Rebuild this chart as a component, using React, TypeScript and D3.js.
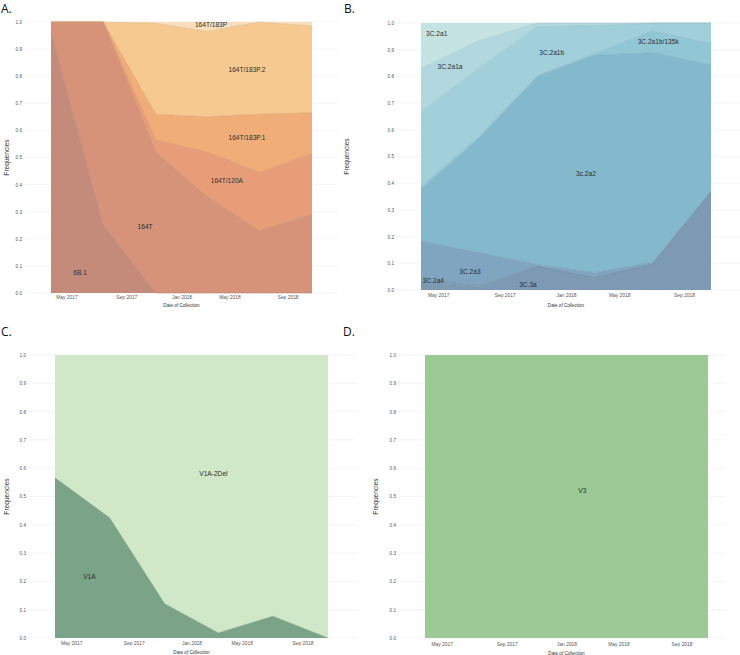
import { useEffect, useRef } from "react";
import * as d3 from "d3";

// collection dates (one point every 4 months) and the axis breaks
const dates = ["2017-03-26", "2017-07-26", "2017-11-26", "2018-03-26", "2018-07-26", "2018-11-26"];
const tickDates = ["2017-05-01", "2017-09-18", "2018-01-25", "2018-05-17", "2018-09-30"];
const yTicks = [0, 0.1, 0.2, 0.3, 0.4, 0.5, 0.6, 0.7, 0.8, 0.9, 1.0];

// A. (bottom -> top)
const aKeys = ["6B.1", "164T", "164T/120A", "164T/183P.1", "164T/183P.2", "164T/183P"];
const a6B1 = [0.96, 0.25, 0, 0, 0, 0];
const a164T = [0.04, 0.75, 0.52, 0.355, 0.23, 0.29];
const a164T120A = [0, 0, 0.045, 0.165, 0.215, 0.225];
const a164T183P1 = [0, 0, 0.095, 0.13, 0.215, 0.15];
const a164T183P2 = [0, 0, 0.335, 0.315, 0.34, 0.32];
const a164T183P = [0, 0, 0.005, 0.035, 0, 0.015];
const aColors = ["#c48b7a", "#d69379", "#e89d79", "#f0ad78", "#f5c98f", "#f8deba"];
const aLabelDates = ["2017-06-02", "2017-11-01", "2018-05-11", "2018-06-27", "2018-06-27", "2018-04-04"];
const aLabelValues = [0.074, 0.245, 0.413, 0.572, 0.823, 0.989];

// B.
const bKeys = ["3C.3a", "3C.2a4", "3C.2a3", "3c.2a2", "3C.2a1b/135k", "3C.2a1b", "3C.2a1a", "3C.2a1"];
const b3C3a = [0.027, 0.012, 0.088, 0.046, 0.096, 0.367];
const b3C2a4 = [0.02, 0.005, 0, 0, 0, 0];
const b3C2a3 = [0.136, 0.123, 0.007, 0.019, 0.008, 0.003];
const b3c2a2 = [0.193, 0.428, 0.704, 0.814, 0.785, 0.472];
const b3C2a1b135k = [0.012, 0.007, 0.004, 0.006, 0.081, 0.081];
const b3C2a1b = [0.28, 0.255, 0.183, 0.105, 0.03, 0.077];
const b3C2a1a = [0.162, 0.103, 0.014, 0.01, 0, 0];
const b3C2a1 = [0.17, 0.067, 0, 0, 0, 0];
const bColors = ["#7e99b4", "#7c9db9", "#80a5c1", "#84b8cc", "#91c6d5", "#a1cfda", "#b1d8de", "#c6e3e3"];
const bLabelDates = ["2017-11-06", "2017-04-21", "2017-07-07", "2018-03-08", "2018-08-07", "2017-12-26", "2017-05-26", "2017-04-28"];
const bLabelValues = [0.019, 0.034, 0.069, 0.435, 0.931, 0.89, 0.835, 0.959];

// C.
const cKeys = ["V1A", "V1A-2Del"];
const cV1A = [0.566, 0.425, 0.121, 0.018, 0.077, 0];
const cV1A2Del = [0.434, 0.575, 0.879, 0.982, 0.923, 1.0];
const cColors = ["#7aa387", "#d1e8c8"];
const cLabelDates = ["2017-06-11", "2018-03-15"];
const cLabelValues = [0.218, 0.581];

// D.
const dKeys = ["V3"];
const dV3 = [1, 1, 1, 1, 1, 1];
const dColors = ["#9dc996"];
const dLabelDates = ["2018-02-28"];
const dLabelValues = [0.522];

const FONT = "'Liberation Sans', Arial, sans-serif";

interface Props {
  letter: string;
  letterX: number;
  letterY: number;
  x0: number;
  x1: number;
  top: number;
  bottom: number;
  gridX0: number;
  gridX1: number;
  yTickX: number;
  yTitleX: number;
  xTickY: number;
  xTitleY: number;
  keys: string[];
  series: number[][];
  colors: string[];
  labelDates: string[];
  labelValues: number[];
}

function Panel(p: Props) {
  const ref = useRef(null);

  useEffect(() => {
    draw();
  });

  function draw() {
    const g = d3.select(ref.current);
    g.selectAll("*").remove();
    const parse = d3.timeParse("%Y-%m-%d");
    const x = d3
      .scaleTime()
      .domain([parse(dates[0])!, parse(dates[dates.length - 1])!])
      .range([p.x0, p.x1]);
    const y = d3.scaleLinear().domain([0, 1]).range([p.bottom, p.top]);

    // grid
    g.append("g")
      .selectAll("line")
      .data(yTicks)
      .enter()
      .append("line")
      .attr("x1", p.gridX0)
      .attr("x2", p.gridX1)
      .attr("y1", (d) => y(d))
      .attr("y2", (d) => y(d))
      .attr("stroke", "#ececec")
      .attr("stroke-width", 0.6);

    // stacked areas
    const table = dates.map((d, i) => {
      const row: any = { date: parse(d) };
      p.keys.forEach((k, j) => (row[k] = p.series[j][i]));
      return row;
    });
    const stacked = d3.stack().keys(p.keys)(table);
    const area = d3
      .area<any>()
      .x((d) => x(d.data.date))
      .y0((d) => y(d[0]))
      .y1((d) => y(d[1]));
    const upper = d3
      .line<any>()
      .x((d) => x(d.data.date))
      .y((d) => y(d[1]));
    g.append("g")
      .selectAll("path")
      .data(stacked)
      .enter()
      .append("path")
      .attr("d", (s) => area(s as any))
      .attr("fill", (_, i) => p.colors[i]);
    if (p.keys.length > 1) {
      g.append("g")
        .selectAll("path")
        .data(stacked.slice(0, -1))
        .enter()
        .append("path")
        .attr("d", (s) => upper(s as any))
        .attr("fill", "none")
        .attr("stroke", (_, i) => d3.color(p.colors[i])!.darker(0.35).toString())
        .attr("stroke-width", 0.5);
    }

    // labels
    g.append("g")
      .selectAll("text")
      .data(p.keys)
      .enter()
      .append("text")
      .attr("x", (_, i) => x(parse(p.labelDates[i])!))
      .attr("y", (_, i) => y(p.labelValues[i]))
      .attr("text-anchor", "middle")
      .attr("dy", "0.35em")
      .attr("font-family", FONT)
      .attr("font-size", 6.6)
      .attr("fill", "#2e2e2e")
      .text((d) => d);

    // x axis
    const xAxis = g
      .append("g")
      .attr("transform", "translate(0," + (p.xTickY - 3.5) + ")")
      .call(
        d3
          .axisBottom(x)
          .tickValues(tickDates.map((d) => parse(d)!))
          .tickFormat(d3.timeFormat("%b %Y") as any)
          .tickSize(0)
          .tickPadding(0)
      );
    xAxis.select(".domain").remove();
    xAxis.selectAll("text").attr("font-family", FONT).attr("font-size", 4.9).attr("fill", "#555");

    // y axis
    const yAxis = g
      .append("g")
      .attr("transform", "translate(" + p.yTickX + ",0)")
      .call(d3.axisLeft(y).tickValues(yTicks).tickFormat(d3.format(".1f")).tickSize(0).tickPadding(0));
    yAxis.select(".domain").remove();
    yAxis.selectAll("text").attr("font-family", FONT).attr("font-size", 4.6).attr("fill", "#555");

    g.append("text")
      .attr("x", (p.x0 + p.x1) / 2)
      .attr("y", p.xTitleY)
      .attr("text-anchor", "middle")
      .attr("font-family", FONT)
      .attr("font-size", 4.6)
      .attr("fill", "#333")
      .text("Date of Collection");

    g.append("text")
      .attr("transform", "translate(" + p.yTitleX + "," + (p.top + p.bottom) / 2 + ")rotate(-90)")
      .attr("text-anchor", "middle")
      .attr("dy", "0.35em")
      .attr("font-family", FONT)
      .attr("font-size", 6.6)
      .attr("fill", "#333")
      .text("Frequencies");

    g.append("text")
      .attr("x", p.letterX)
      .attr("y", p.letterY)
      .attr("font-family", "'Open Sans', sans-serif")
      .attr("font-size", 12)
      .attr("fill", "#111")
      .text(p.letter);
  }

  return <g ref={ref}></g>;
}

export default function App() {
  return (
    <svg width={740} height={655} style={{ position: "absolute", left: 0, top: 0, background: "#fff" }}>
      <Panel
        letter="A."
        letterX={1}
        letterY={13}
        x0={51}
        x1={312}
        top={22}
        bottom={293}
        gridX0={25}
        gridX1={338}
        yTickX={22}
        yTitleX={7}
        xTickY={299.5}
        xTitleY={307}
        keys={aKeys}
        series={[a6B1, a164T, a164T120A, a164T183P1, a164T183P2, a164T183P]}
        colors={aColors}
        labelDates={aLabelDates}
        labelValues={aLabelValues}
      />
      <Panel
        letter="B."
        letterX={344}
        letterY={13}
        x0={421}
        x1={711}
        top={23}
        bottom={290}
        gridX0={397}
        gridX1={740}
        yTickX={394}
        yTitleX={347}
        xTickY={297}
        xTitleY={307}
        keys={bKeys}
        series={[b3C3a, b3C2a4, b3C2a3, b3c2a2, b3C2a1b135k, b3C2a1b, b3C2a1a, b3C2a1]}
        colors={bColors}
        labelDates={bLabelDates}
        labelValues={bLabelValues}
      />
      <Panel
        letter="C."
        letterX={1}
        letterY={336}
        x0={55}
        x1={328}
        top={355}
        bottom={638}
        gridX0={28}
        gridX1={357}
        yTickX={26}
        yTitleX={7}
        xTickY={645}
        xTitleY={654}
        keys={cKeys}
        series={[cV1A, cV1A2Del]}
        colors={cColors}
        labelDates={cLabelDates}
        labelValues={cLabelValues}
      />
      <Panel
        letter="D."
        letterX={343}
        letterY={336}
        x0={425}
        x1={708}
        top={355}
        bottom={638}
        gridX0={398}
        gridX1={726}
        yTickX={396}
        yTitleX={376}
        xTickY={646}
        xTitleY={654.5}
        keys={dKeys}
        series={[dV3]}
        colors={dColors}
        labelDates={dLabelDates}
        labelValues={dLabelValues}
      />
    </svg>
  );
}
